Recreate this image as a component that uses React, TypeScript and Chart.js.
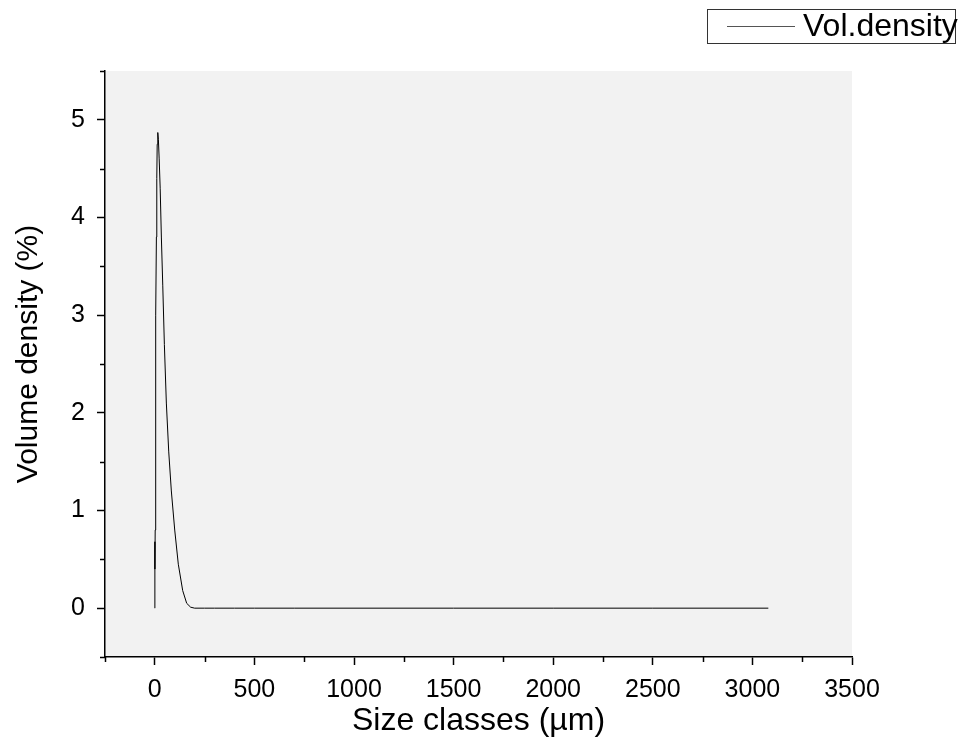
import React, { useEffect, useRef } from "react";
import { Chart, registerables } from "chart.js";

Chart.register(...registerables);

// Size classes (µm) and volume density (%)
const sizeClasses: number[] = [
  0.01, 0.05, 0.1, 0.2, 0.4, 0.7, 1, 2, 3, 4, 5, 6, 8, 10, 12, 15, 18, 22, 27,
  33, 40, 48, 58, 70, 83, 100, 118, 140, 160, 180, 200, 250, 300, 400, 500, 700,
  1000, 1500, 2000, 2500, 3080,
];
const volDensity: number[] = [
  0, 0.2, 0.45, 0.68, 0.55, 0.31, 0.4, 0.8, 1.3, 1.9, 2.5, 3.0, 3.8, 4.4, 4.75,
  4.87, 4.8, 4.6, 4.3, 3.8, 3.3, 2.7, 2.1, 1.6, 1.2, 0.8, 0.45, 0.18, 0.05, 0.01,
  0, 0, 0, 0, 0, 0, 0, 0, 0, 0, 0,
];
const seriesLabel = "Vol.density";
const xTitle = "Size classes (µm)";
const yTitle = "Volume density (%)";
const xMin = -250;
const xMax = 3500;
const xStep = 250;
const xMajor = 500;
const yMin = -0.5;
const yMax = 5.5;
const yStep = 0.5;

const FONT = "Arial, 'Liberation Sans', sans-serif";

export default function App() {
  const ref = useRef<HTMLCanvasElement | null>(null);

  useEffect(() => {
    if (!ref.current) return;
    const isMajorX = (v: number) => Math.abs(Math.round(v / xMajor) * xMajor - v) < 1e-6;
    const isMajorY = (v: number) => Math.abs(Math.round(v) - v) < 1e-6;

    const bgPlugin = {
      id: "bg",
      beforeDraw(chart: any) {
        const { ctx, chartArea } = chart;
        ctx.save();
        ctx.fillStyle = "#f2f2f2";
        ctx.fillRect(chartArea.left, chartArea.top, chartArea.right - chartArea.left, chartArea.bottom - chartArea.top);
        ctx.restore();
      },
      afterDraw(chart: any) {
        const { ctx, chartArea } = chart;
        const xs = chart.scales.x;
        const ys = chart.scales.y;
        ctx.save();
        ctx.strokeStyle = "#000";
        ctx.lineWidth = 1.5;
        // minor ticks
        xs.ticks.forEach((t: any) => {
          if (!isMajorX(t.value)) {
            const px = Math.round(xs.getPixelForValue(t.value)) + 0.5;
            ctx.beginPath();
            ctx.moveTo(px, chartArea.bottom);
            ctx.lineTo(px, chartArea.bottom + 5);
            ctx.stroke();
          }
        });
        ys.ticks.forEach((t: any) => {
          if (!isMajorY(t.value)) {
            const py = Math.round(ys.getPixelForValue(t.value)) + 0.5;
            ctx.beginPath();
            ctx.moveTo(chartArea.left - 5, py);
            ctx.lineTo(chartArea.left, py);
            ctx.stroke();
          }
        });
        // y axis title
        ctx.save();
        ctx.fillStyle = "#000";
        ctx.font = `30px ${FONT}`;
        ctx.textAlign = "center";
        ctx.textBaseline = "middle";
        ctx.translate(29, 354);
        ctx.rotate(-Math.PI / 2);
        ctx.fillText(yTitle, 0, 0);
        ctx.restore();
        // legend box
        ctx.lineWidth = 1;
        ctx.strokeStyle = "#333";
        ctx.strokeRect(707.5, 9.5, 248, 34);
        ctx.strokeStyle = "#555";
        ctx.beginPath();
        ctx.moveTo(727, 26.5);
        ctx.lineTo(795, 26.5);
        ctx.stroke();
        ctx.fillStyle = "#000";
        ctx.font = `32px ${FONT}`;
        ctx.textBaseline = "middle";
        ctx.textAlign = "left";
        ctx.fillText(seriesLabel, 803, 27);
        ctx.restore();
      },
    };

    const chart = new Chart(ref.current, {
      type: "line",
      data: {
        datasets: [
          {
            label: seriesLabel,
            data: sizeClasses.map((s, i) => ({ x: s, y: volDensity[i] })),
            borderColor: "#000",
            borderWidth: 1,
            pointRadius: 0,
            tension: 0,
            fill: false,
          },
        ],
      },
      options: {
        animation: false,
        responsive: false,
        maintainAspectRatio: false,
        layout: { padding: { top: 71, right: 109, left: 0, bottom: 0 } },
        plugins: { legend: { display: false }, tooltip: { enabled: false } },
        scales: {
          x: {
            type: "linear",
            min: xMin,
            max: xMax,
            afterFit(scale: any) {
              scale.height = 83;
            },
            ticks: {
              stepSize: xStep,
              autoSkip: false,
              maxRotation: 0,
              padding: 10,
              color: "#000",
              font: { family: FONT, size: 25 },
              callback: (v: any) => (isMajorX(Number(v)) ? String(Math.round(Number(v))) : ""),
            },
            grid: {
              display: true,
              drawOnChartArea: false,
              drawTicks: true,
              tickLength: 8,
              tickWidth: 1.5,
              tickColor: (c: any) => (c.tick && isMajorX(c.tick.value) ? "#000" : "rgba(0,0,0,0)"),
            },
            border: { display: true, color: "#000", width: 1.5 },
            title: {
              display: true,
              text: xTitle,
              color: "#000",
              font: { family: FONT, size: 32 },
              padding: { top: 0, bottom: 0 },
            },
          },
          y: {
            type: "linear",
            min: yMin,
            max: yMax,
            afterFit(scale: any) {
              scale.width = 105;
            },
            ticks: {
              stepSize: yStep,
              autoSkip: false,
              padding: 12,
              color: "#000",
              font: { family: FONT, size: 25 },
              callback: (v: any) => (isMajorY(Number(v)) ? String(Math.round(Number(v))) : ""),
            },
            grid: {
              display: true,
              drawOnChartArea: false,
              drawTicks: true,
              tickLength: 8,
              tickWidth: 1.5,
              tickColor: (c: any) => (c.tick && isMajorY(c.tick.value) ? "#000" : "rgba(0,0,0,0)"),
            },
            border: { display: true, color: "#000", width: 1.5 },
            title: { display: false },
          },
        },
      },
      plugins: [bgPlugin],
    });
    return () => chart.destroy();
  }, []);

  return (
    <div style={{ position: "absolute", left: 0, top: 0, width: 961, height: 740, background: "#fff" }}>
      <canvas ref={ref} width={961} height={740} style={{ width: 961, height: 740, display: "block" }} />
    </div>
  );
}
